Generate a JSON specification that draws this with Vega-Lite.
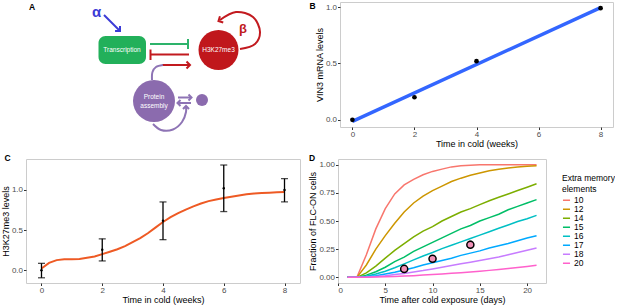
{
 "$schema": "https://vega.github.io/schema/vega-lite/v6.json",
 "padding": 0,
 "columns": 2,
 "align": "none",
 "spacing": {"row": 4, "column": -7},
 "concat": [
   {
    "title": {"text": "A", "offset": -9, "dx": 3},
    "width": 289, "height": 140,
    "view": {"stroke": null},
    "encoding": {
     "x": {"field": "x", "type": "quantitative", "scale": {"domain": [0, 289], "nice": false, "zero": false}, "axis": null},
     "y": {"field": "y", "type": "quantitative", "scale": {"domain": [0, 140], "nice": false, "zero": false, "reverse": true}, "axis": null}
    },
    "layer": [
     {"data": {"values": [{"x": 72.5, "x2": 120, "y": 34, "y2": 62}]},
      "mark": {"type": "rect", "color": "#22B05A", "cornerRadius": 7},
      "encoding": {"x2": {"field": "x2"}, "y2": {"field": "y2"}}},
     {"data": {"values": [{"x": 192.5, "y": 48}]},
      "mark": {"type": "point", "shape": "circle", "filled": true, "size": 1600, "color": "#C0171C", "opacity": 1}},
     {"data": {"values": [{"x": 128, "y": 99}]},
      "mark": {"type": "point", "shape": "circle", "filled": true, "size": 1764, "color": "#8B6BAE", "opacity": 1}},
     {"data": {"values": [{"x": 176, "y": 98}]},
      "mark": {"type": "point", "shape": "circle", "filled": true, "size": 144, "color": "#8B6BAE", "opacity": 1}},
     {"data": {"values": [
       {"x": 96, "y": 48, "t": "Transcription"},
       {"x": 192.5, "y": 48, "t": "H3K27me3"},
       {"x": 128, "y": 95, "t": "Protein"},
       {"x": 128, "y": 103.5, "t": "assembly"}]},
      "mark": {"type": "text", "color": "white", "fontSize": 6.5, "align": "center", "baseline": "middle"},
      "encoding": {"text": {"field": "t"}}},
     {"data": {"values": [{"x": 70.5, "y": 10, "t": "α"}]},
      "mark": {"type": "text", "color": "#3B3BD6", "fontSize": 15, "fontWeight": "bold", "align": "center", "baseline": "middle"},
      "encoding": {"text": {"field": "t"}}},
     {"data": {"values": [{"x": 217, "y": 27, "t": "β"}]},
      "mark": {"type": "text", "color": "#C0171C", "fontSize": 13, "fontWeight": "bold", "align": "center", "baseline": "middle"},
      "encoding": {"text": {"field": "t"}}},
     {"data": {"values": [{"id": "a", "i": 0, "x": 78, "y": 13}, {"id": "a", "i": 1, "x": 93, "y": 28}]},
      "mark": {"type": "line", "color": "#3B3BD6", "strokeWidth": 2},
      "encoding": {"detail": {"field": "id"}, "order": {"field": "i"}}},
     {"data": {"values": [
       {"id": "g1", "i": 0, "x": 124, "y": 42}, {"id": "g1", "i": 1, "x": 162, "y": 42},
       {"id": "g2", "i": 0, "x": 162, "y": 37}, {"id": "g2", "i": 1, "x": 162, "y": 47}]},
      "mark": {"type": "line", "color": "#2DB36B", "strokeWidth": 2},
      "encoding": {"detail": {"field": "id"}, "order": {"field": "i"}}},
     {"data": {"values": [
       {"id": "r1", "i": 0, "x": 125, "y": 52.5}, {"id": "r1", "i": 1, "x": 163, "y": 52.5},
       {"id": "r2", "i": 0, "x": 124.5, "y": 47.5}, {"id": "r2", "i": 1, "x": 124.5, "y": 58},
       {"id": "r3", "i": 0, "x": 136, "y": 63}, {"id": "r3", "i": 1, "x": 163, "y": 63},
       {"id": "r4", "i": 0, "x": 214, "y": 47}, {"id": "r4", "i": 1, "x": 229, "y": 42},
       {"id": "r4", "i": 2, "x": 234, "y": 30}, {"id": "r4", "i": 3, "x": 227, "y": 15},
       {"id": "r4", "i": 4, "x": 210, "y": 10}, {"id": "r4", "i": 5, "x": 194, "y": 18}]},
      "mark": {"type": "line", "color": "#C21A1F", "strokeWidth": 2, "interpolate": "catmull-rom"},
      "encoding": {"detail": {"field": "id"}, "order": {"field": "i"}}},
     {"data": {"values": [
       {"id": "p1", "i": 0, "x": 126, "y": 78}, {"id": "p1", "i": 1, "x": 126.5, "y": 70},
       {"id": "p1", "i": 2, "x": 130, "y": 65}, {"id": "p1", "i": 3, "x": 137, "y": 63},
       {"id": "p2", "i": 0, "x": 152, "y": 95.5}, {"id": "p2", "i": 1, "x": 165, "y": 95.5},
       {"id": "p3", "i": 0, "x": 152, "y": 101}, {"id": "p3", "i": 1, "x": 165, "y": 101},
       {"id": "p4", "i": 0, "x": 127, "y": 122}, {"id": "p4", "i": 1, "x": 135, "y": 128},
       {"id": "p4", "i": 2, "x": 147, "y": 127.5}, {"id": "p4", "i": 3, "x": 156, "y": 120},
       {"id": "p4", "i": 4, "x": 160, "y": 110}, {"id": "p4", "i": 5, "x": 160, "y": 105}]},
      "mark": {"type": "line", "color": "#8E74B5", "strokeWidth": 2, "interpolate": "catmull-rom"},
      "encoding": {"detail": {"field": "id"}, "order": {"field": "i"}}},
     {"data": {"values": [{"x": 94, "y": 29, "a": 45}]},
      "mark": {"type": "point", "shape": "M -1 -1 L 0 0 L -1 1", "filled": false, "size": 49, "strokeWidth": 2, "color": "#3B3BD6", "opacity": 1},
      "encoding": {"angle": {"field": "a", "type": "quantitative", "scale": null}}},
     {"data": {"values": [{"x": 164, "y": 63, "a": 0}, {"x": 192.5, "y": 19, "a": 152}]},
      "mark": {"type": "point", "shape": "M -1 -1 L 0 0 L -1 1", "filled": false, "size": 49, "strokeWidth": 2, "color": "#C21A1F", "opacity": 1},
      "encoding": {"angle": {"field": "a", "type": "quantitative", "scale": null}}},
     {"data": {"values": [{"x": 165.5, "y": 95.5, "a": 0}, {"x": 151.5, "y": 101, "a": 180}, {"x": 160, "y": 104, "a": 270}]},
      "mark": {"type": "point", "shape": "M -1 -1 L 0 0 L -1 1", "filled": false, "size": 36, "strokeWidth": 2, "color": "#8E74B5", "opacity": 1},
      "encoding": {"angle": {"field": "a", "type": "quantitative", "scale": null}}}
    ]
   },
   {
    "title": {"text": "B", "offset": -10, "dx": -6},
    "width": 273, "height": 125,
    "data": {"values": [{"week": 0, "vin3": 0}, {"week": 2, "vin3": 0.2}, {"week": 4, "vin3": 0.52}, {"week": 8, "vin3": 0.99}]},
    "encoding": {
     "x": {"field": "week", "type": "quantitative", "scale": {"domain": [-0.4, 8.4], "nice": false, "zero": false}, "axis": {"values": [0, 2, 4, 6, 8], "title": "Time in cold (weeks)"}},
     "y": {"field": "vin3", "type": "quantitative", "scale": {"domain": [-0.064, 1.045], "nice": false, "zero": false}, "axis": {"values": [0, 0.5, 1], "format": ".1f", "title": "VIN3 mRNA levels"}}
    },
    "layer": [
     {"transform": [{"regression": "vin3", "on": "week", "extent": [0, 8]}],
      "mark": {"type": "line", "color": "#3366FF", "strokeWidth": 3.5}},
     {"mark": {"type": "point", "filled": true, "color": "black", "size": 22, "opacity": 1}}
    ]
   },
   {
    "title": {"text": "C", "offset": -3, "dx": 3},
    "width": 274, "height": 124,
    "encoding": {
     "x": {"field": "week", "type": "quantitative", "scale": {"domain": [-0.51, 8.51], "nice": false, "zero": false}, "axis": {"values": [0, 2, 4, 6, 8], "title": "Time in cold (weeks)"}}
    },
    "layer": [
     {"data": {"values": [
       {"week": 0, "level": 0.02}, {"week": 0.25, "level": 0.09}, {"week": 0.5, "level": 0.125}, {"week": 0.75, "level": 0.135},
       {"week": 1, "level": 0.135}, {"week": 1.25, "level": 0.14}, {"week": 1.5, "level": 0.155}, {"week": 1.75, "level": 0.17},
       {"week": 2, "level": 0.2}, {"week": 2.25, "level": 0.23}, {"week": 2.5, "level": 0.26}, {"week": 2.75, "level": 0.3},
       {"week": 3, "level": 0.35}, {"week": 3.25, "level": 0.4}, {"week": 3.5, "level": 0.46}, {"week": 3.75, "level": 0.53},
       {"week": 4, "level": 0.6}, {"week": 4.25, "level": 0.66}, {"week": 4.5, "level": 0.71}, {"week": 4.75, "level": 0.755},
       {"week": 5, "level": 0.795}, {"week": 5.25, "level": 0.83}, {"week": 5.5, "level": 0.86}, {"week": 5.75, "level": 0.88},
       {"week": 6, "level": 0.9}, {"week": 6.25, "level": 0.915}, {"week": 6.5, "level": 0.93}, {"week": 6.75, "level": 0.945},
       {"week": 7, "level": 0.955}, {"week": 7.25, "level": 0.96}, {"week": 7.5, "level": 0.965}, {"week": 7.75, "level": 0.97},
       {"week": 8, "level": 0.975}]},
      "mark": {"type": "line", "color": "#EE5A24", "strokeWidth": 2},
      "encoding": {"y": {"field": "level", "type": "quantitative", "scale": {"domain": [-0.16, 1.385], "nice": false, "zero": false}, "axis": {"values": [0, 0.5, 1], "format": ".1f", "title": "H3K27me3 levels"}}}},
     {"data": {"values": [
       {"week": 0, "lo": -0.095, "hi": 0.085},
       {"week": 2, "lo": 0.115, "hi": 0.39},
       {"week": 4, "lo": 0.38, "hi": 0.85},
       {"week": 6, "lo": 0.73, "hi": 1.31},
       {"week": 8, "lo": 0.85, "hi": 1.14}]},
      "mark": {"type": "errorbar", "ticks": {"size": 7}, "thickness": 1.3, "color": "black"},
      "encoding": {"y": {"field": "lo", "type": "quantitative", "axis": {"values": [0, 0.5, 1], "format": ".1f", "title": "H3K27me3 levels"}}, "y2": {"field": "hi"}}},
     {"data": {"values": [
       {"week": 0, "mean": 0}, {"week": 2, "mean": 0.255}, {"week": 4, "mean": 0.617}, {"week": 6, "mean": 1.02}, {"week": 8, "mean": 1.0}]},
      "mark": {"type": "point", "filled": true, "color": "black", "size": 6, "opacity": 1},
      "encoding": {"y": {"field": "mean", "type": "quantitative", "axis": {"values": [0, 0.5, 1], "format": ".1f", "title": "H3K27me3 levels"}}}}
    ]
   },
   {
    "title": {"text": "D", "offset": -3, "dx": 0},
    "width": 208, "height": 124,
    "encoding": {
     "x": {"field": "d", "type": "quantitative", "scale": {"domain": [0, 22], "nice": false, "zero": false}, "axis": {"values": [0, 5, 10, 15, 20], "title": "Time after cold exposure (days)"}}
    },
    "layer": [
     {"data": {"values": [
{"m":"10","d":1,"f":0},{"m":"10","d":2,"f":0},{"m":"10","d":3,"f":0.2},{"m":"10","d":4,"f":0.43},{"m":"10","d":5,"f":0.61},{"m":"10","d":6,"f":0.74},{"m":"10","d":7,"f":0.82},{"m":"10","d":8,"f":0.87},{"m":"10","d":9,"f":0.91},{"m":"10","d":10,"f":0.94},{"m":"10","d":11,"f":0.96},{"m":"10","d":12,"f":0.98},{"m":"10","d":13,"f":0.99},{"m":"10","d":14,"f":0.995},{"m":"10","d":15,"f":1},{"m":"10","d":16,"f":1},{"m":"10","d":17,"f":1},{"m":"10","d":18,"f":1},{"m":"10","d":19,"f":1},{"m":"10","d":20,"f":1},{"m":"10","d":21,"f":1},
{"m":"12","d":1,"f":0},{"m":"12","d":2,"f":0},{"m":"12","d":3,"f":0.11},{"m":"12","d":4,"f":0.25},{"m":"12","d":5,"f":0.37},{"m":"12","d":6,"f":0.48},{"m":"12","d":7,"f":0.58},{"m":"12","d":8,"f":0.66},{"m":"12","d":9,"f":0.72},{"m":"12","d":10,"f":0.77},{"m":"12","d":11,"f":0.81},{"m":"12","d":12,"f":0.85},{"m":"12","d":13,"f":0.88},{"m":"12","d":14,"f":0.905},{"m":"12","d":15,"f":0.925},{"m":"12","d":16,"f":0.945},{"m":"12","d":17,"f":0.96},{"m":"12","d":18,"f":0.97},{"m":"12","d":19,"f":0.978},{"m":"12","d":20,"f":0.985},{"m":"12","d":21,"f":0.99},
{"m":"14","d":1,"f":0},{"m":"14","d":2,"f":0},{"m":"14","d":3,"f":0.04},{"m":"14","d":4,"f":0.1},{"m":"14","d":5,"f":0.17},{"m":"14","d":6,"f":0.24},{"m":"14","d":7,"f":0.3},{"m":"14","d":8,"f":0.36},{"m":"14","d":9,"f":0.41},{"m":"14","d":10,"f":0.45},{"m":"14","d":11,"f":0.5},{"m":"14","d":12,"f":0.54},{"m":"14","d":13,"f":0.58},{"m":"14","d":14,"f":0.61},{"m":"14","d":15,"f":0.645},{"m":"14","d":16,"f":0.68},{"m":"14","d":17,"f":0.71},{"m":"14","d":18,"f":0.74},{"m":"14","d":19,"f":0.77},{"m":"14","d":20,"f":0.8},{"m":"14","d":21,"f":0.83},
{"m":"15","d":1,"f":0},{"m":"15","d":2,"f":0},{"m":"15","d":3,"f":0.02},{"m":"15","d":4,"f":0.05},{"m":"15","d":5,"f":0.09},{"m":"15","d":6,"f":0.14},{"m":"15","d":7,"f":0.18},{"m":"15","d":8,"f":0.23},{"m":"15","d":9,"f":0.27},{"m":"15","d":10,"f":0.31},{"m":"15","d":11,"f":0.35},{"m":"15","d":12,"f":0.39},{"m":"15","d":13,"f":0.43},{"m":"15","d":14,"f":0.46},{"m":"15","d":15,"f":0.5},{"m":"15","d":16,"f":0.53},{"m":"15","d":17,"f":0.56},{"m":"15","d":18,"f":0.6},{"m":"15","d":19,"f":0.63},{"m":"15","d":20,"f":0.66},{"m":"15","d":21,"f":0.69},
{"m":"16","d":1,"f":0},{"m":"16","d":2,"f":0},{"m":"16","d":3,"f":0.01},{"m":"16","d":4,"f":0.03},{"m":"16","d":5,"f":0.055},{"m":"16","d":6,"f":0.085},{"m":"16","d":7,"f":0.12},{"m":"16","d":8,"f":0.155},{"m":"16","d":9,"f":0.19},{"m":"16","d":10,"f":0.22},{"m":"16","d":11,"f":0.255},{"m":"16","d":12,"f":0.285},{"m":"16","d":13,"f":0.315},{"m":"16","d":14,"f":0.345},{"m":"16","d":15,"f":0.375},{"m":"16","d":16,"f":0.405},{"m":"16","d":17,"f":0.435},{"m":"16","d":18,"f":0.465},{"m":"16","d":19,"f":0.495},{"m":"16","d":20,"f":0.52},{"m":"16","d":21,"f":0.55},
{"m":"17","d":1,"f":0},{"m":"17","d":2,"f":0},{"m":"17","d":3,"f":0.005},{"m":"17","d":4,"f":0.015},{"m":"17","d":5,"f":0.03},{"m":"17","d":6,"f":0.045},{"m":"17","d":7,"f":0.065},{"m":"17","d":8,"f":0.085},{"m":"17","d":9,"f":0.11},{"m":"17","d":10,"f":0.13},{"m":"17","d":11,"f":0.15},{"m":"17","d":12,"f":0.17},{"m":"17","d":13,"f":0.195},{"m":"17","d":14,"f":0.215},{"m":"17","d":15,"f":0.235},{"m":"17","d":16,"f":0.26},{"m":"17","d":17,"f":0.28},{"m":"17","d":18,"f":0.3},{"m":"17","d":19,"f":0.325},{"m":"17","d":20,"f":0.35},{"m":"17","d":21,"f":0.37},
{"m":"18","d":1,"f":0},{"m":"18","d":2,"f":0},{"m":"18","d":3,"f":0.003},{"m":"18","d":4,"f":0.008},{"m":"18","d":5,"f":0.015},{"m":"18","d":6,"f":0.025},{"m":"18","d":7,"f":0.035},{"m":"18","d":8,"f":0.048},{"m":"18","d":9,"f":0.06},{"m":"18","d":10,"f":0.075},{"m":"18","d":11,"f":0.09},{"m":"18","d":12,"f":0.105},{"m":"18","d":13,"f":0.12},{"m":"18","d":14,"f":0.135},{"m":"18","d":15,"f":0.15},{"m":"18","d":16,"f":0.165},{"m":"18","d":17,"f":0.18},{"m":"18","d":18,"f":0.2},{"m":"18","d":19,"f":0.22},{"m":"18","d":20,"f":0.24},{"m":"18","d":21,"f":0.26},
{"m":"20","d":1,"f":0},{"m":"20","d":2,"f":0},{"m":"20","d":3,"f":0.001},{"m":"20","d":4,"f":0.003},{"m":"20","d":5,"f":0.005},{"m":"20","d":6,"f":0.008},{"m":"20","d":7,"f":0.011},{"m":"20","d":8,"f":0.015},{"m":"20","d":9,"f":0.02},{"m":"20","d":10,"f":0.025},{"m":"20","d":11,"f":0.03},{"m":"20","d":12,"f":0.036},{"m":"20","d":13,"f":0.042},{"m":"20","d":14,"f":0.048},{"m":"20","d":15,"f":0.055},{"m":"20","d":16,"f":0.062},{"m":"20","d":17,"f":0.07},{"m":"20","d":18,"f":0.078},{"m":"20","d":19,"f":0.087},{"m":"20","d":20,"f":0.097},{"m":"20","d":21,"f":0.107}
      ]},
      "mark": {"type": "line", "strokeWidth": 1.5},
      "encoding": {
       "y": {"field": "f", "type": "quantitative", "scale": {"domain": [-0.05, 1.05], "nice": false, "zero": false}, "axis": {"values": [0, 0.25, 0.5, 0.75, 1], "format": ".2f", "title": "Fraction of FLC-ON cells"}},
       "color": {"field": "m", "type": "nominal", "scale": {"domain": ["10", "12", "14", "15", "16", "17", "18", "20"], "range": ["#F8766D", "#CD9600", "#7CAE00", "#00BE67", "#00BFC4", "#00A9FF", "#C77CFF", "#FF61CC"]},
        "legend": {"orient": "none", "legendX": 536, "legendY": 172, "title": ["Extra memory", "elements"], "titleFontSize": 8.5, "titleFontWeight": "normal", "titleColor": "black", "labelFontSize": 8.5, "labelColor": "black", "symbolType": "stroke", "symbolStrokeWidth": 1.5, "symbolSize": 50, "rowPadding": 0, "clipHeight": 8.6, "titlePadding": 3, "labelOffset": 3}}
      }},
     {"data": {"values": [{"d": 14, "lo": 0.29, "hi": 0.325}]},
      "mark": {"type": "rule", "color": "black", "strokeWidth": 2.5},
      "encoding": {"y": {"field": "lo", "type": "quantitative", "axis": {"values": [0, 0.25, 0.5, 0.75, 1], "format": ".2f", "title": "Fraction of FLC-ON cells"}}, "y2": {"field": "hi"}}},
     {"data": {"values": [{"d": 7, "f": 0.075}, {"d": 10, "f": 0.165}, {"d": 14, "f": 0.29}]},
      "mark": {"type": "point", "shape": "circle", "filled": true, "fill": "#F191B8", "stroke": "black", "strokeWidth": 1.5, "size": 50, "opacity": 1},
      "encoding": {"y": {"field": "f", "type": "quantitative", "axis": {"values": [0, 0.25, 0.5, 0.75, 1], "format": ".2f", "title": "Fraction of FLC-ON cells"}}}}
    ]
   }
 ],
 "config": {
  "font": "Liberation Sans",
  "view": {"stroke": "#CCCCCC", "strokeWidth": 1},
  "axis": {"grid": false, "domain": false, "tickColor": "#333333", "tickSize": 2.5, "labelColor": "#4D4D4D", "labelFontSize": 8, "titleFontSize": 9, "titleFontWeight": "normal", "titleColor": "black", "labelPadding": 1, "titlePadding": 1},
  "title": {"fontSize": 8.5, "fontWeight": "bold", "anchor": "start", "frame": "bounds", "color": "black"}
 }
}
